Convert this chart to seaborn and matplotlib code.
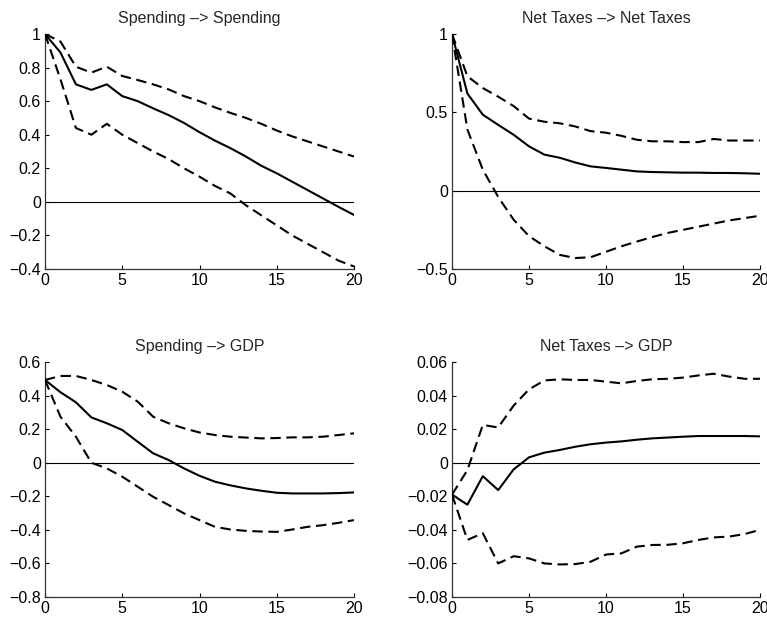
import numpy as np
import pandas as pd
import matplotlib
matplotlib.use("Agg")
import matplotlib.pyplot as plt
import seaborn as sns
from matplotlib.ticker import FuncFormatter, MultipleLocator

horizon = list(range(21))

titles = ["Spending –> Spending", "Net Taxes –> Net Taxes",
          "Spending –> GDP", "Net Taxes –> GDP"]

# Spending -> Spending
ss_mid = [1.0, 0.89, 0.70, 0.667, 0.70, 0.63, 0.60, 0.557, 0.517, 0.47, 0.415,
          0.365, 0.32, 0.27, 0.215, 0.17, 0.12, 0.07, 0.02, -0.03, -0.078]
ss_up = [1.0, 0.955, 0.805, 0.77, 0.805, 0.75, 0.726, 0.70, 0.67, 0.63, 0.60,
         0.563, 0.53, 0.50, 0.465, 0.425, 0.39, 0.36, 0.33, 0.30, 0.27]
ss_lo = [1.0, 0.73, 0.44, 0.40, 0.465, 0.40, 0.35, 0.30, 0.255, 0.20, 0.15,
         0.095, 0.05, -0.02, -0.08, -0.14, -0.20, -0.25, -0.30, -0.35, -0.385]

# Net Taxes -> Net Taxes
tt_mid = [1.0, 0.62, 0.485, 0.42, 0.357, 0.283, 0.23, 0.21, 0.18, 0.155, 0.145,
          0.134, 0.123, 0.119, 0.117, 0.115, 0.115, 0.113, 0.113, 0.111, 0.108]
tt_up = [1.0, 0.73, 0.655, 0.60, 0.54, 0.46, 0.44, 0.43, 0.41, 0.38, 0.37,
         0.35, 0.325, 0.315, 0.315, 0.31, 0.31, 0.33, 0.32, 0.32, 0.32]
tt_lo = [1.0, 0.39, 0.134, -0.04, -0.185, -0.29, -0.355, -0.41, -0.43, -0.425, -0.39,
         -0.355, -0.325, -0.296, -0.27, -0.25, -0.23, -0.21, -0.19, -0.175, -0.16]

# Spending -> GDP
sg_mid = [0.493, 0.42, 0.36, 0.27, 0.235, 0.195, 0.125, 0.056, 0.016, -0.034, -0.078,
          -0.113, -0.135, -0.153, -0.167, -0.179, -0.183, -0.183, -0.183, -0.181, -0.177]
sg_up = [0.493, 0.517, 0.517, 0.493, 0.463, 0.423, 0.364, 0.274, 0.235, 0.205, 0.18,
         0.165, 0.155, 0.15, 0.145, 0.147, 0.151, 0.151, 0.155, 0.165, 0.175]
sg_lo = [0.493, 0.274, 0.155, 0.0, -0.034, -0.083, -0.143, -0.203, -0.252, -0.302, -0.342,
         -0.382, -0.398, -0.406, -0.41, -0.412, -0.398, -0.382, -0.372, -0.358, -0.342]

# Net Taxes -> GDP
tg_mid = [-0.019, -0.025, -0.008, -0.0163, -0.004, 0.0032, 0.006, 0.0076, 0.0095, 0.011, 0.012,
          0.0127, 0.0137, 0.0145, 0.015, 0.0155, 0.0159, 0.0159, 0.0159, 0.0159, 0.0157]
tg_up = [-0.019, -0.0044, 0.0225, 0.021, 0.034, 0.0437, 0.049, 0.0497, 0.0493, 0.0493, 0.0483,
         0.0473, 0.0487, 0.0497, 0.050, 0.0507, 0.052, 0.053, 0.0513, 0.050, 0.050]
tg_lo = [-0.019, -0.046, -0.042, -0.060, -0.0557, -0.057, -0.060, -0.0606, -0.0604, -0.059, -0.0547,
         -0.054, -0.050, -0.049, -0.0489, -0.048, -0.046, -0.0445, -0.044, -0.0425, -0.040]

ylims = [(-0.4, 1.0), (-0.5, 1.0), (-0.8, 0.6), (-0.08, 0.06)]
ysteps = [0.2, 0.5, 0.2, 0.02]

panels = [(ss_mid, ss_up, ss_lo), (tt_mid, tt_up, tt_lo),
          (sg_mid, sg_up, sg_lo), (tg_mid, tg_up, tg_lo)]

sns.set_style("ticks")
plt.rcParams["font.family"] = ["Liberation Sans", "DejaVu Sans"]
plt.rcParams["xtick.direction"] = "in"
plt.rcParams["ytick.direction"] = "in"

fig = plt.figure(figsize=(7.67, 6.2), dpi=100)
W, H = 767.0, 620.0
boxes = [(45, 34, 354, 269), (452, 34, 760, 269),
         (45, 362, 354, 597), (452, 362, 760, 597)]


def fmt(v, pos):
    s = "%g" % round(v, 6)
    return s.replace("-", "\u2212")


for i, (box, (mid, up, lo)) in enumerate(zip(boxes, panels)):
    x0, y0, x1, y1 = box
    ax = fig.add_axes([x0 / W, 1 - y1 / H, (x1 - x0) / W, (y1 - y0) / H])
    ax.axhline(0, color="black", lw=0.8, zorder=1)
    df = pd.DataFrame({"h": horizon * 3,
                       "v": list(mid) + list(up) + list(lo),
                       "s": ["mid"] * 21 + ["up"] * 21 + ["lo"] * 21})
    sns.lineplot(data=df, x="h", y="v", hue="s", style="s",
                 palette={"mid": "black", "up": "black", "lo": "black"},
                 dashes={"mid": "", "up": (5, 2.7), "lo": (5, 2.7)},
                 lw=1.5, legend=False, ax=ax, zorder=3)
    ax.set_xlim(0, 20)
    ax.set_ylim(*ylims[i])
    ax.xaxis.set_major_locator(MultipleLocator(5))
    ax.yaxis.set_major_locator(MultipleLocator(ysteps[i]))
    ax.yaxis.set_major_formatter(FuncFormatter(fmt))
    ax.set_xlabel("")
    ax.set_ylabel("")
    ax.set_title(titles[i], fontsize=11.5, pad=8)
    ax.tick_params(labelsize=11.5, length=3, width=0.8, colors="black", pad=3)
    for side in ["top", "right"]:
        ax.spines[side].set_visible(False)
    for side in ["left", "bottom"]:
        ax.spines[side].set_color("#333333")
        ax.spines[side].set_linewidth(0.9)

fig.savefig("out.png", dpi=100)
